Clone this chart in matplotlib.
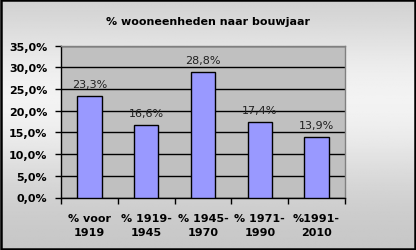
import numpy as np
import matplotlib
matplotlib.use("Agg")
import matplotlib.pyplot as plt
from matplotlib.ticker import FuncFormatter

categories = ["% voor\n1919", "% 1919-\n1945", "% 1945-\n1970", "% 1971-\n1990", "%1991-\n2010"]
values = [23.3, 16.6, 28.8, 17.4, 13.9]
yticks = [0, 5, 10, 15, 20, 25, 30, 35]

W, H = 416, 251
fig = plt.figure(figsize=(W / 100, H / 100), dpi=100)

# background gradient: darker top/bottom, light middle
bg = fig.add_axes([0, 0, 1, 1])
yy = np.linspace(0, 1, 256)
shade = 0.77 + 0.18 * np.exp(-((yy - 0.6) / 0.35) ** 2)
bg.imshow(np.tile(shade[:, None], (1, 2)), cmap="gray", vmin=0, vmax=1,
          aspect="auto", extent=[0, 1, 0, 1], origin="lower")
bg.set_xlim(0, 1)
bg.set_ylim(0, 1)
bg.axis("off")
bg.add_patch(plt.Rectangle((0.002, 0.003), 0.995, 0.993, fill=False,
                           edgecolor="black", linewidth=1.8))

left, right = 61 / W, 345 / W
top, bottom = 46.5 / H, 198.5 / H
ax = fig.add_axes([left, 1 - bottom, right - left, bottom - top])
ax.set_facecolor("#c0c0c0")

x = np.arange(len(values))
ax.bar(x, values, width=0.43, color="#9999ff", edgecolor="black", linewidth=1.0, zorder=3)
for xi, v in zip(x, values):
    ax.text(xi, v + 1.6, f"{v:.1f}%".replace(".", ","), ha="center", va="bottom",
            fontsize=8, color="#202020", zorder=4)

ax.set_xlim(-0.5, len(values) - 0.5)
ax.set_ylim(0, 35)
ax.set_yticks(yticks)
ax.yaxis.set_major_formatter(FuncFormatter(lambda v, p: f"{v:.1f}%".replace(".", ",")))
ax.grid(axis="y", color="black", linewidth=1.0, zorder=0)
ax.set_axisbelow(True)

ax.set_xticks(np.arange(len(values) + 1) - 0.5, minor=False)
ax.set_xticklabels([])
ax.set_xticks(x, minor=True)
ax.set_xticklabels(categories, minor=True, fontsize=8, fontweight="bold", linespacing=1.5)
ax.tick_params(axis="x", which="major", length=4, width=1, direction="out", colors="black")
ax.tick_params(axis="x", which="minor", length=0, pad=11)
ax.tick_params(axis="y", length=4, width=1, direction="out", labelsize=8, pad=6)
for lbl in ax.get_yticklabels():
    lbl.set_fontweight("bold")

ax.spines["left"].set_color("black")
ax.spines["bottom"].set_color("black")
ax.spines["top"].set_color("#808080")
ax.spines["right"].set_color("#808080")
for s in ax.spines.values():
    s.set_linewidth(1.0)

fig.text(0.5, 1 - 22 / H, "% wooneenheden naar bouwjaar", ha="center", va="center",
         fontsize=8, fontweight="bold")

fig.savefig("out.png", dpi=100)
